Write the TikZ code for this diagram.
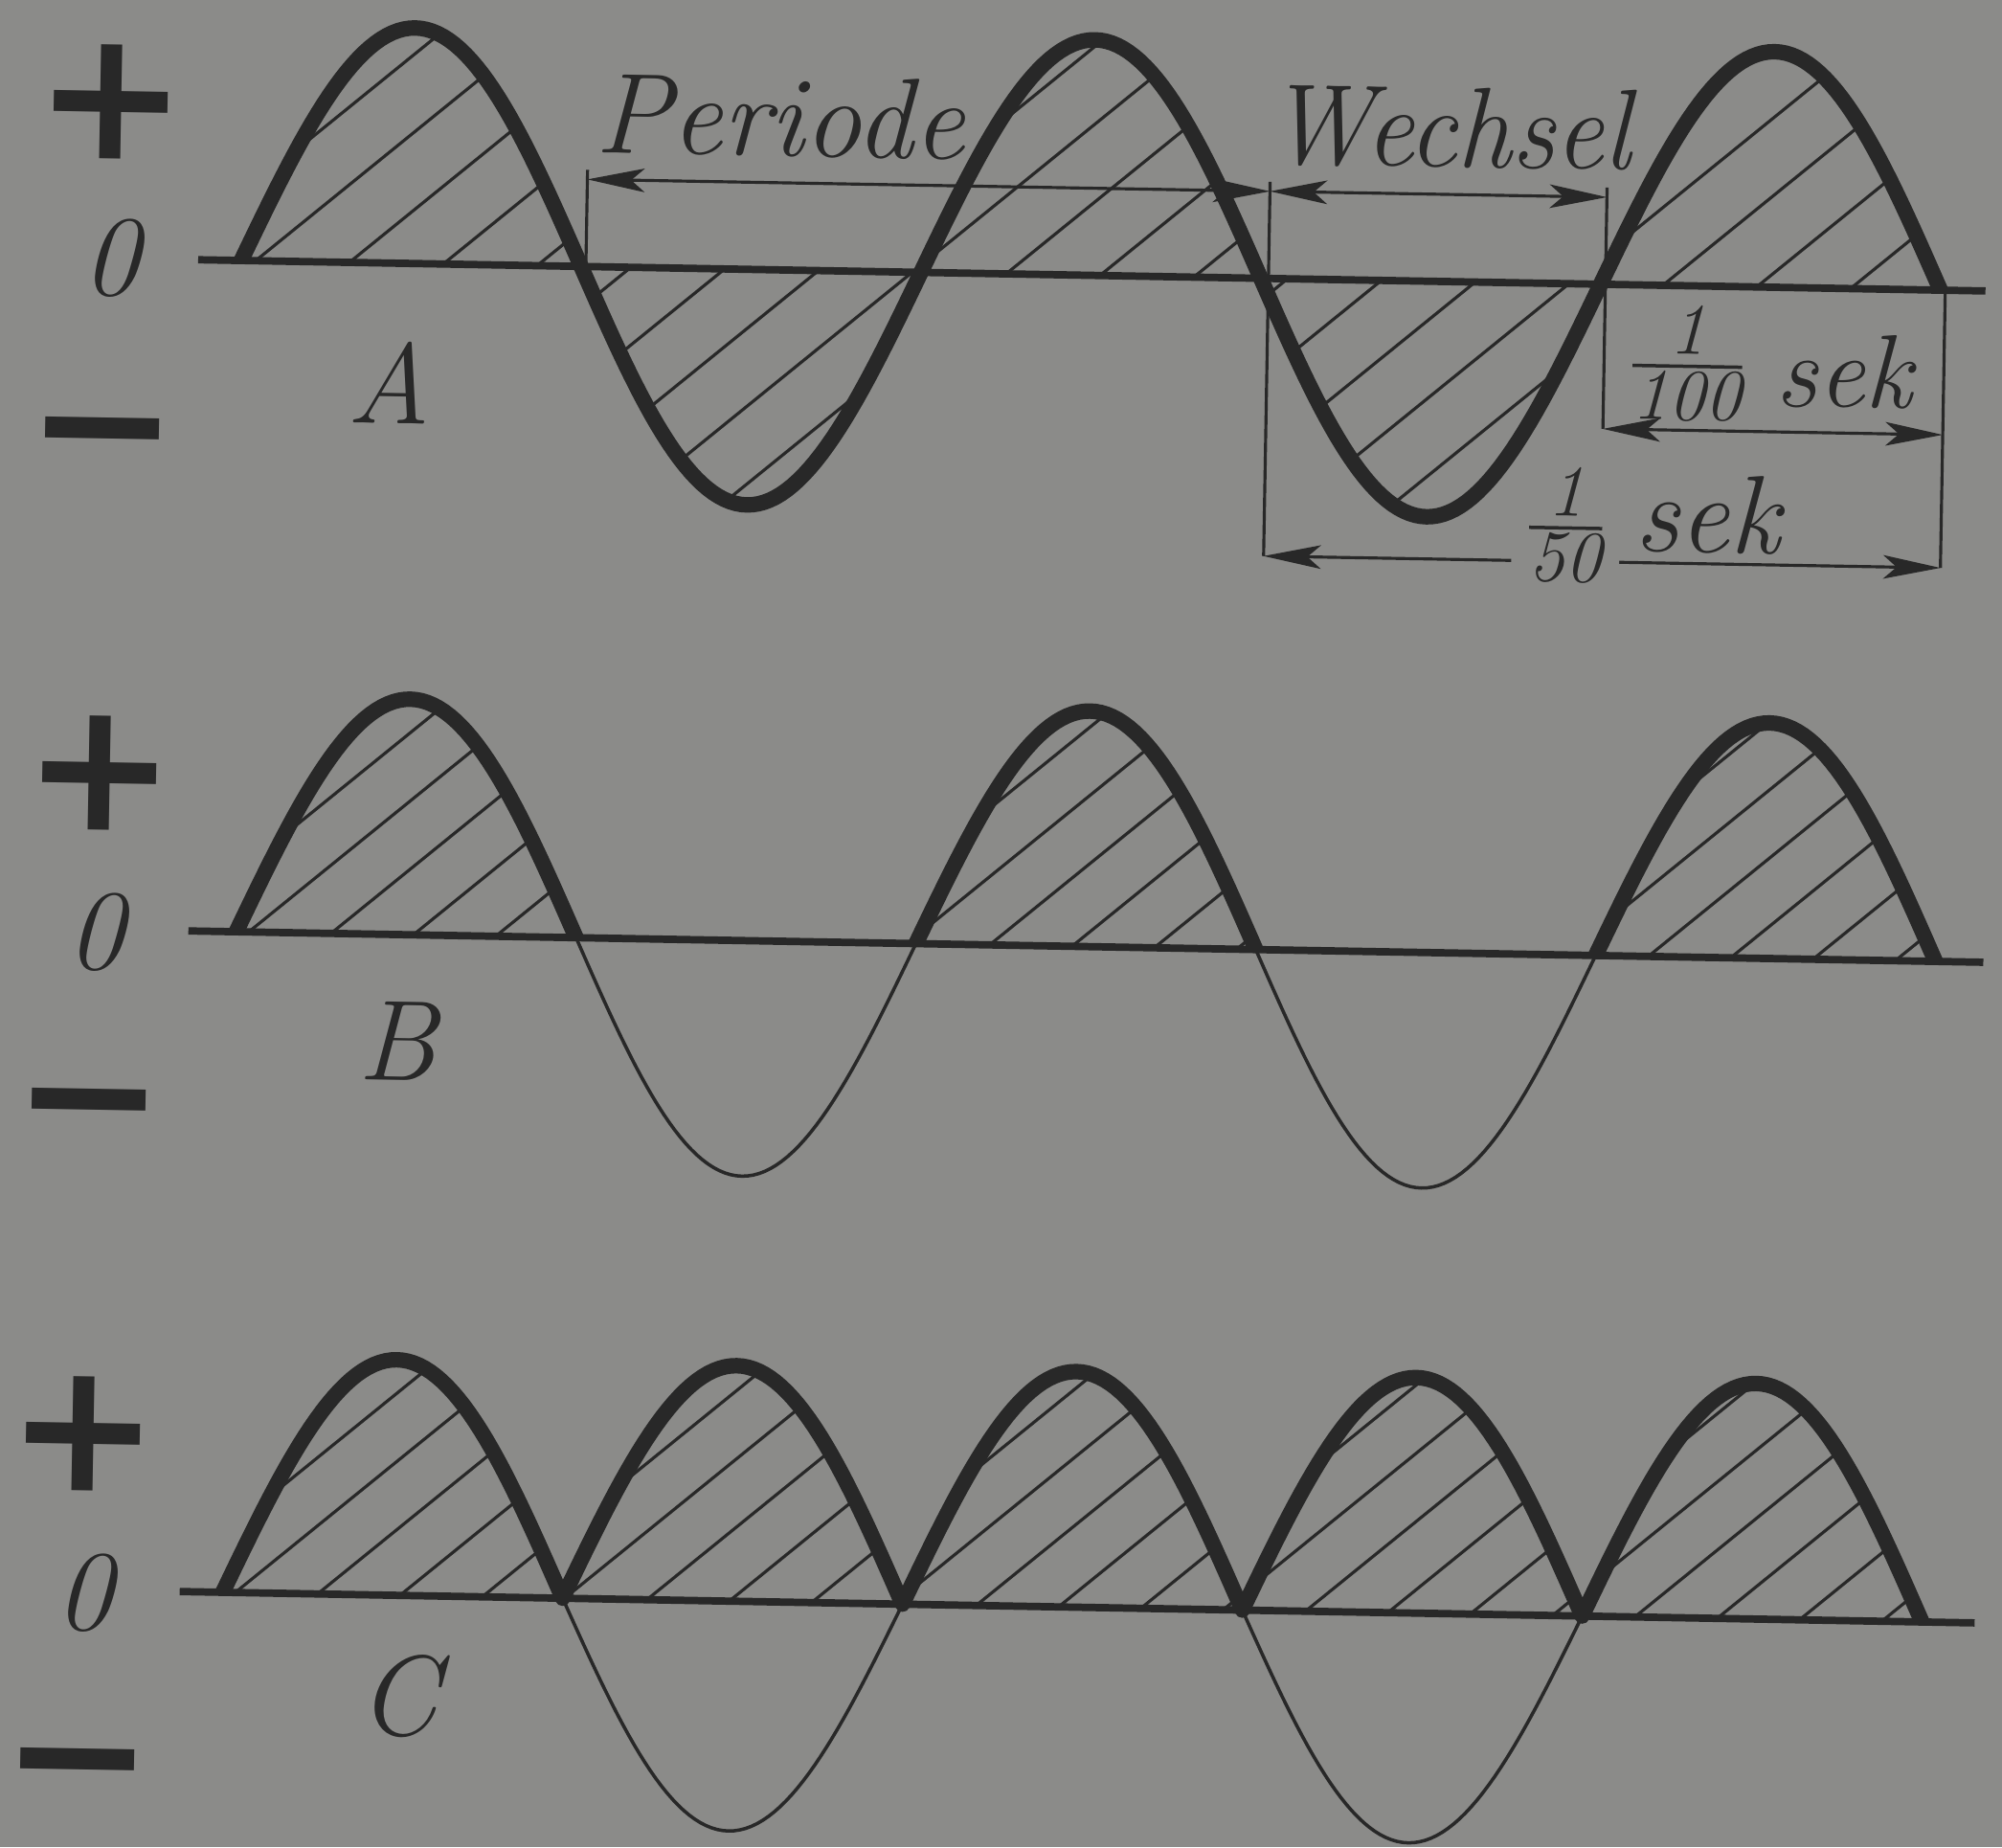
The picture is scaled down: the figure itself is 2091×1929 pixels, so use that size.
\documentclass[tikz,border=0pt]{standalone}
\usepackage{amsmath}
\usepackage{fontspec}
\usetikzlibrary{arrows.meta}
\newfontfamily\signfont{DejaVu Sans}
\definecolor{paper}{RGB}{139,139,137}
\definecolor{ink}{RGB}{40,40,40}

\begin{document}
\begin{tikzpicture}[
    x=0.01cm, y=-0.01cm,
    wave/.style={ink, line width=4.6pt, line join=round},
    thinwave/.style={ink, line width=1pt},
    zeroline/.style={ink, line width=2.2pt},
    hatch/.style={ink, line width=0.9pt},
    dim/.style={ink, line width=0.9pt},
    dimarr/.style={dim, {Stealth[length=17pt, width=7pt, inset=4pt]}-{Stealth[length=17pt, width=7pt, inset=4pt]}},
    sign/.style={text=ink, font=\signfont\bfseries\fontsize{54}{54}\selectfont, inner sep=0pt, anchor=base},
    zero/.style={text=ink, font=\fontsize{34}{36}\selectfont\itshape, inner sep=0pt},
    lbl/.style={text=ink, font=\fontsize{34}{36}\selectfont\itshape, inner sep=0pt},
    unit/.style={text=ink, font=\fontsize{31}{33}\selectfont\itshape, inner sep=0pt, anchor=base}
  ]
  \fill[paper] (0,0) rectangle (2091,1929);
  \useasboundingbox (0,0) rectangle (2091,1929);

  \begin{scope}[rotate around={-1:(1045,965)}, transform shape]

  % A: Wechselstrom, both half waves
  \coordinate (A0) at (195,286);
  \coordinate (A1) at (2062,286);
  \begin{scope}
    \clip plot[domain=0:900, samples=301] ({240+\x/180*355}, {286-246*sin(\x)}) -- cycle;
    \foreach \j in {-3,...,21}
      \draw[hatch] ({255+98*\j-400}, 622) -- ++(800,-672);
  \end{scope}
  \draw[zeroline] (A0) -- (A1);
  \draw[wave] plot[domain=0:900, samples=301] ({240+\x/180*355}, {286-246*sin(\x)});

  \node[sign] (plusA) at (101,182) {+};
  \node[zero] (nullA) at (104,286) {0};
  \node[sign] (minusA) at (98,523) {−};
  \node[lbl] (nameA) at (397,411) {A};

  % dimensions
  \coordinate (t1) at (600,185);
  \coordinate (t2) at (1313,185);
  \coordinate (t3) at (1665,185);
  \coordinate (t4) at (2020,286);
  \coordinate (p1) at (600,195);
  \coordinate (p2) at (1313,195);
  \coordinate (p3) at (1665,195);
  \coordinate (h1) at (1665,437);
  \coordinate (h2) at (2020,437);
  \coordinate (f1) at (1313,576);
  \coordinate (f2) at (2020,576);
  \draw[dim] (t1) -- (t1 |- A0);
  \draw[dim] (t2) -- (f1);
  \draw[dim] (t3) -- (h1);
  \draw[dim] (t4) -- (f2);
  \draw[dimarr] (p1) -- (p2);
  \draw[dimarr] (p2) -- (p3);
  \draw[dimarr] (h1) -- (h2);
  \draw[dimarr] (f1) -- (f2);

  \node[lbl, anchor=base] (periode) at (800,167) {Periode};
  \node[lbl, anchor=base, xscale=0.95] (wechsel) at (1499,166) {Wechsel};
  \node[unit] (hundert) at (1752,392) {$\tfrac{\textit{1}}{\textit{100}}$};
  \node[unit] (sekA) at (1916,410) {sek};
  \node[unit, fill=paper, inner xsep=4pt] (fuenfzig) at (1628,563) {$\tfrac{\textit{1}}{\textit{50}}$};
  \node[unit, font=\fontsize{33}{35}\selectfont\itshape] (sekB) at (1776,564) {sek};

  % B: only the positive half waves
  \coordinate (B0) at (197,987);
  \coordinate (B1) at (2072,987);
  \foreach \k [evaluate=\k as \da using 180*\k, evaluate=\k as \db using 180*\k+180] in {0,2,4} {
    \begin{scope}
      \clip plot[domain=\da:\db, samples=61] ({247+\x/180*355}, {987-246*sin(\x)}) -- cycle;
      \foreach \j in {-3,...,22}
        \draw[hatch] ({260+86*\j-400}, 1323) -- ++(800,-672);
    \end{scope}
  }
  \draw[zeroline] (B0) -- (B1);
  \foreach \k [evaluate=\k as \da using 180*\k, evaluate=\k as \db using 180*\k+180] in {0,2,4}
    \draw[wave] plot[domain=\da:\db, samples=61] ({247+\x/180*355}, {987-246*sin(\x)});
  \foreach \k [evaluate=\k as \da using 180*\k, evaluate=\k as \db using 180*\k+180] in {1,3}
    \draw[thinwave] plot[domain=\da:\db, samples=61] ({247+\x/180*355}, {987-246*sin(\x)});

  \node[sign] (plusB) at (101,883) {+};
  \node[zero] (nullB) at (100,990) {0};
  \node[sign] (minusB) at (96,1224) {−};
  \node[lbl] (nameB) at (418,1098) {B};

  % C: rectified, negative half waves turned up
  \coordinate (C0) at (200,1677);
  \coordinate (C1) at (2075,1677);
  \begin{scope}
    \clip plot[domain=0:900, samples=301] ({245+\x/180*355}, {1677-246*abs(sin(\x))}) -- cycle;
    \foreach \j in {-3,...,22}
      \draw[hatch] ({258+86*\j-400}, 2013) -- ++(800,-672);
  \end{scope}
  \draw[zeroline] (C0) -- (C1);
  \draw[wave] plot[domain=0:900, samples=301] ({245+\x/180*355}, {1677-246*abs(sin(\x))});
  \foreach \k [evaluate=\k as \da using 180*\k, evaluate=\k as \db using 180*\k+180] in {1,3}
    \draw[thinwave] plot[domain=\da:\db, samples=61] ({245+\x/180*355}, {1677-240*sin(\x)});

  \node[sign] (plusC) at (97,1573) {+};
  \node[zero] (nullC) at (100,1680) {0};
  \node[sign] (minusC) at (96,1914) {−};
  \node[lbl] (nameC) at (430,1782) {C};

  \end{scope}
\end{tikzpicture}
\end{document}
